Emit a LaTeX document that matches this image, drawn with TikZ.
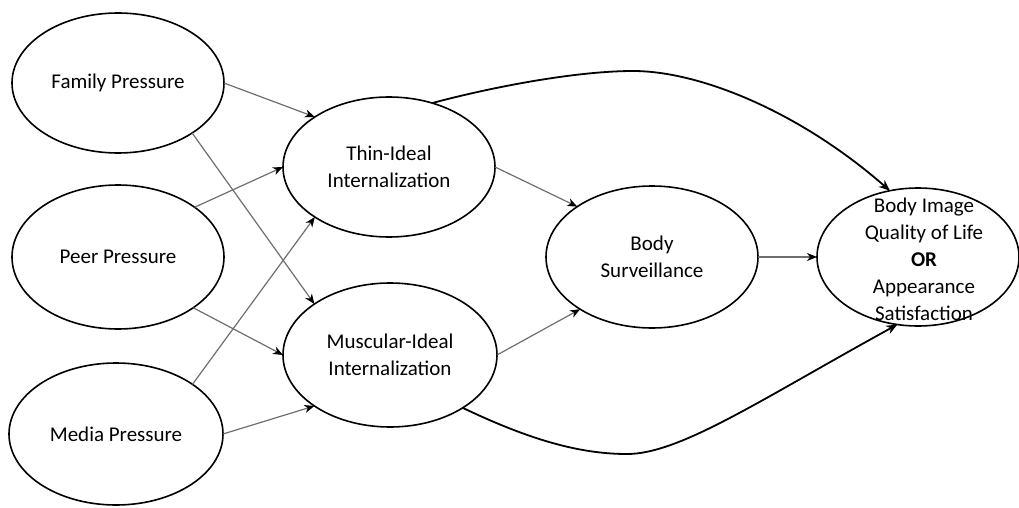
\documentclass[tikz,border=0pt]{standalone}
\usepackage{fontspec}
\setmainfont{Carlito}
\usetikzlibrary{shapes.geometric,arrows.meta}
\definecolor{linkgray}{RGB}{110,110,110}
\begin{document}
\begin{tikzpicture}[x=1pt,y=-1pt,
  construct/.style={ellipse,draw=black,line width=1.6pt,inner sep=0pt,outer sep=0pt,
    align=center,font=\fontsize{21}{27}\selectfont},
  link/.style={draw=linkgray,line width=1.2pt,
    -{Stealth[length=10pt,width=8pt,inset=3pt,color=black]}},
  direct/.style={draw=black,line width=1.8pt,
    -{Stealth[length=11pt,width=9pt,inset=3.5pt]}}]
\useasboundingbox (0,0) rectangle (1019,508);

% pressures
\node[construct,minimum width=212pt,minimum height=140pt] (fam) at (118,83) {Family Pressure};
\node[construct,minimum width=212pt,minimum height=144pt] (peer) at (118,257) {Peer Pressure};
\node[construct,minimum width=214pt,minimum height=142pt] (media) at (116,434) {Media Pressure};

% internalization
\node[construct,minimum width=212pt,minimum height=140pt] (thin) at (389,167) {Thin-Ideal\\Internalization};
\node[construct,minimum width=214pt,minimum height=144pt] (musc) at (390,355) {Muscular-Ideal\\Internalization};

% mediator and outcome
\node[construct,minimum width=212pt,minimum height=142pt] (bs) at (652,257) {Body\\Surveillance};
\node[construct,minimum width=202pt,minimum height=138pt,
  label={[construct,draw=none,xshift=6pt,yshift=-2pt]center:Body Image\\Quality of Life\\\textbf{OR}\\Appearance\\Satisfaction}]
  (out) at (918,257) {};

% pressures to internalization
\draw[link] (fam.0) -- (thin.146);
\draw[link] (fam.-34) -- (musc.146);
\draw[link] (peer.33.5) -- (thin.180);
\draw[link] (peer.-34) -- (musc.180);
\draw[link] (media.33.5) -- (thin.214.5);
\draw[link] (media.0) -- (musc.214);

% internalization to surveillance
\draw[link] (thin.0) -- (bs.146.5);
\draw[link] (musc.0) -- (bs.216);

% surveillance to outcome
\draw[link] (bs.0) -- (out.180);

% direct paths
\draw[direct] (thin.56.7) .. controls (500,85) and (580,71) .. (633,71)
  .. controls (700,71) and (800,112) .. (out.113);
\draw[direct] (musc.-36) .. controls (530,440) and (580,454) .. (627,454)
  .. controls (680,454) and (760,400) .. (out.253.5);
\end{tikzpicture}
\end{document}
